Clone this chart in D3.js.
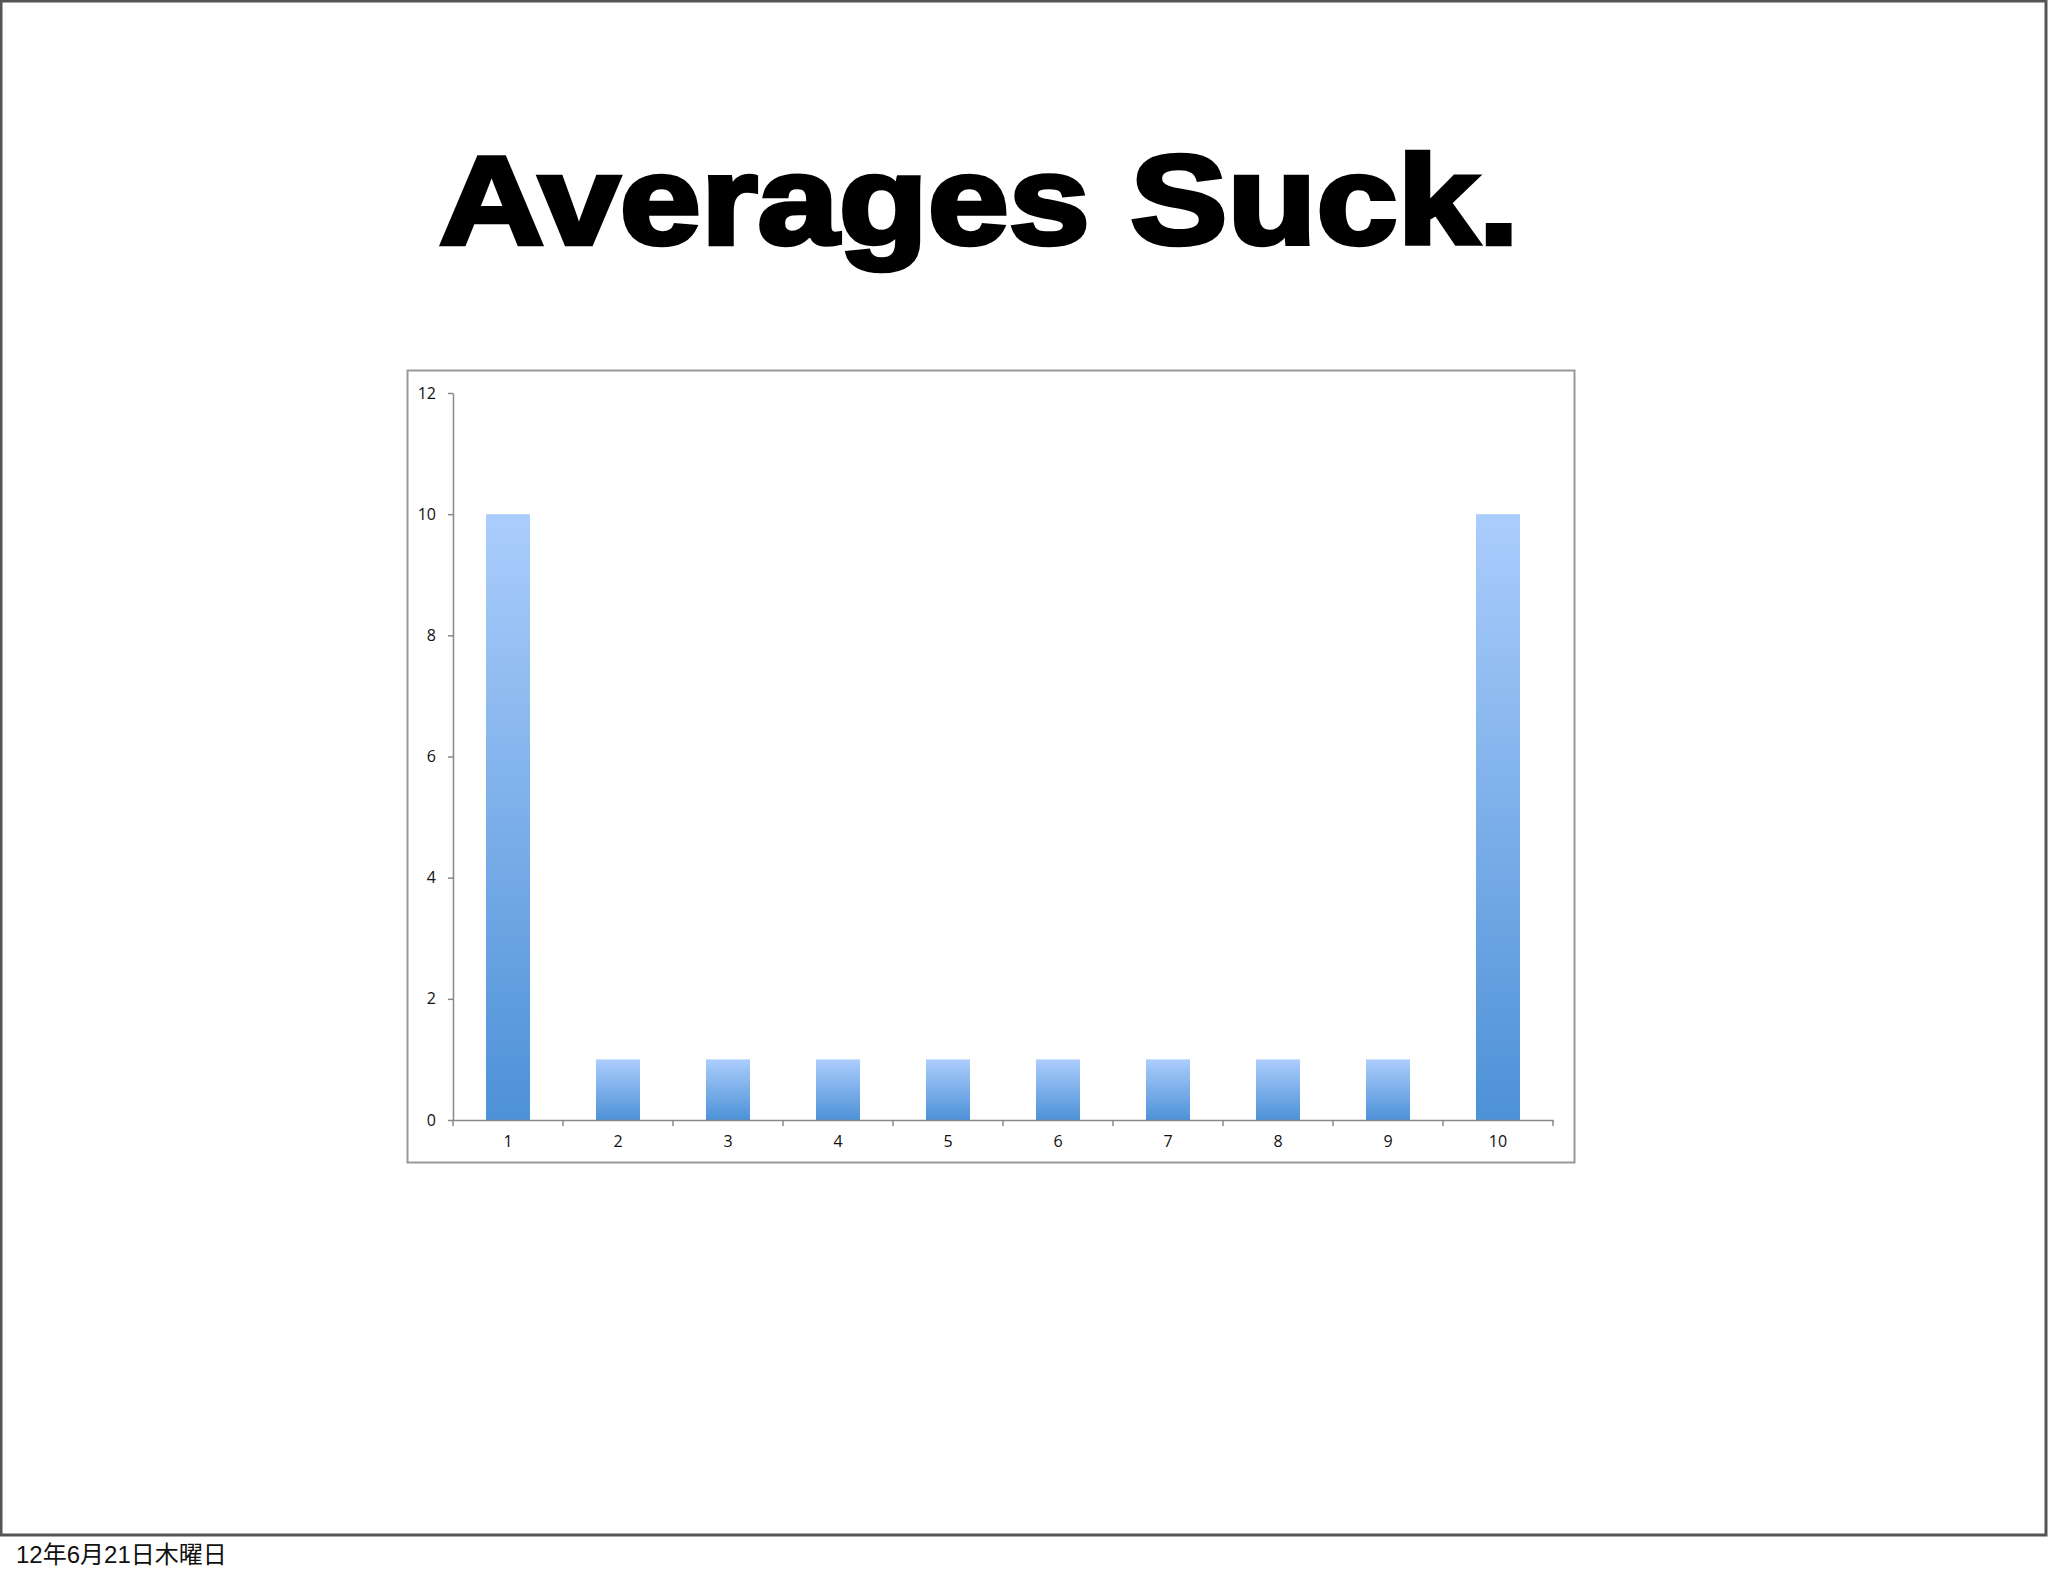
<!DOCTYPE html>
<html>
<head>
<meta charset="utf-8">
<script src="https://cdn.jsdelivr.net/npm/d3@7.9.0/dist/d3.min.js"></script>
<style>
  html, body { margin: 0; padding: 0; background: #fff; }
  svg { display: block; }
</style>
</head>
<body>
<svg id="slide" width="2048" height="1576"></svg>
<script>
// chart data
const categories = ['1', '2', '3', '4', '5', '6', '7', '8', '9', '10'];
const counts = [10, 1, 1, 1, 1, 1, 1, 1, 1, 10];
const yTicks = [0, 2, 4, 6, 8, 10, 12];

const svg = d3.select('#slide');

// slide frame
svg.append('rect')
    .attr('x', 1).attr('y', 1)
    .attr('width', 2045).attr('height', 1534)
    .attr('fill', '#fff')
    .attr('stroke', '#555')
    .attr('stroke-width', 3);

// title
svg.append('text')
    .attr('x', 439)
    .attr('y', 244)
    .attr('textLength', 1080)
    .attr('lengthAdjust', 'spacingAndGlyphs')
    .attr('font-family', '"Liberation Sans", Arial, sans-serif')
    .attr('font-weight', 900)
    .attr('font-size', 127)
    .attr('fill', '#000')
    .attr('stroke', '#000')
    .attr('stroke-width', 4.5)
    .attr('stroke-linejoin', 'miter')
    .text('Averages Suck.');

// chart box
svg.append('rect')
    .attr('x', 407.5).attr('y', 370.5)
    .attr('width', 1167).attr('height', 792)
    .attr('fill', '#fff')
    .attr('stroke', '#999')
    .attr('stroke-width', 2);

const x = d3.scaleBand().domain(categories).range([453, 1553]).paddingInner(0.6).paddingOuter(0.3);
const y = d3.scaleLinear().domain([0, 12]).range([1120, 393]);

// gradient for bars (per bar bounding box)
const defs = svg.append('defs');
const grad = defs.append('linearGradient')
    .attr('id', 'barGrad')
    .attr('x1', 0).attr('y1', 0).attr('x2', 0).attr('y2', 1);
grad.append('stop').attr('offset', '0%').attr('stop-color', '#abcdfc');
grad.append('stop').attr('offset', '100%').attr('stop-color', '#4d91d7');

const plot = svg.append('g');

plot.selectAll('rect.bar')
    .data(categories)
    .join('rect')
    .attr('class', 'bar')
    .attr('x', d => x(d))
    .attr('width', x.bandwidth())
    .attr('y', (d, i) => y(counts[i]))
    .attr('height', (d, i) => y(0) - y(counts[i]))
    .attr('fill', 'url(#barGrad)');

// y axis
const yAxis = svg.append('g')
    .attr('transform', 'translate(453,0)')
    .call(d3.axisLeft(y).tickValues(yTicks).tickSize(5).tickSizeOuter(0).tickPadding(12));

// x axis: ticks at band boundaries
const xAxis = svg.append('g')
    .attr('transform', 'translate(0,1120)')
    .call(d3.axisBottom(x).tickSize(0).tickPadding(16));

const step = x.step();
xAxis.selectAll('line.bound')
    .data(d3.range(categories.length + 1))
    .join('line')
    .attr('class', 'bound')
    .attr('x1', i => 453 + i * step)
    .attr('x2', i => 453 + i * step)
    .attr('y1', 0).attr('y2', 6)
    .attr('stroke', '#888')
    .attr('stroke-width', 1.5);

[yAxis, xAxis].forEach(ax => {
    ax.select('.domain').attr('stroke', '#888').attr('stroke-width', 1.5);
    ax.selectAll('.tick line').attr('stroke', '#888').attr('stroke-width', 1.5);
    ax.selectAll('.tick text')
        .attr('font-family', '"Open Sans", "Liberation Sans", sans-serif')
        .attr('font-size', 16)
        .attr('fill', '#111');
});

// date footer
svg.append('text')
    .attr('x', 16)
    .attr('y', 1563)
    .attr('font-family', '"Liberation Sans", "Noto Sans CJK JP", sans-serif')
    .attr('font-size', 24)
    .attr('fill', '#111')
    .text('12年6月21日木曜日');
</script>
</body>
</html>
